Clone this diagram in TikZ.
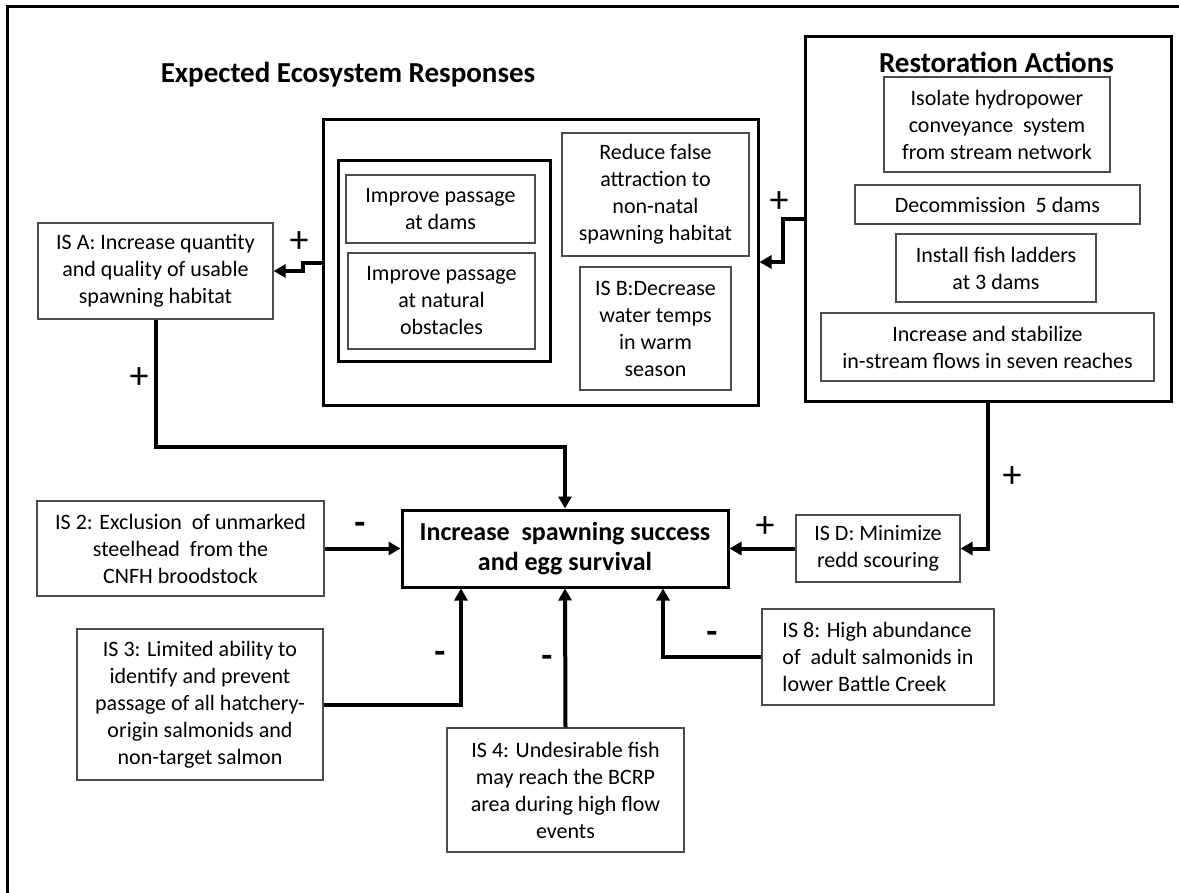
\documentclass[tikz,border=0pt]{standalone}
\usepackage{fontspec}
\setmainfont{Carlito}
\usetikzlibrary{arrows.meta}
\begin{document}
\begin{tikzpicture}[x=0.5pt,y=-0.5pt,
  body/.style={font=\fontsize{11}{13.5}\selectfont},
  thinbox/.style={draw=black!70, line width=0.6pt, inner sep=0pt, align=center, body},
  thickbox/.style={draw=black, line width=1.5pt, inner sep=0pt},
  heading/.style={font=\fontsize{14.5}{17}\selectfont\bfseries, inner sep=0pt},
  conn/.style={line width=2pt, -{Triangle[length=6pt,width=6.5pt]}},
  plus/.style={font=\fontsize{19}{19}\selectfont, inner sep=0pt},
  minus/.style={font=\fontsize{18}{18}\selectfont\bfseries, inner sep=0pt},
]
% canvas and frame
\fill[white] (0,0) rectangle (1179,893);
\useasboundingbox (0,0) rectangle (1179,893);
\draw[line width=1.5pt] (7,893) -- (7,7) -- (1179,7);

% headings
\node[heading] (ertitle) at (348,75) {Expected Ecosystem Responses};

% expected ecosystem responses group
\node[thickbox, minimum width=217.5pt, minimum height=143pt] (big) at (540.5,263) {};
\node[thickbox, minimum width=106pt, minimum height=100.5pt] (pass) at (444,261.5) {};
\node[thinbox, minimum width=94.5pt, minimum height=34pt] (pdams) at (440.5,209) {Improve passage\\at dams};
\node[thinbox, minimum width=93.5pt, minimum height=48pt] (pnat) at (441.5,301) {Improve passage\\at natural\\obstacles};
\node[thinbox, minimum width=93.5pt, minimum height=61.5pt] (rfalse) at (655.5,194.5) {Reduce false\\attraction to\\non-natal\\spawning habitat};
\node[thinbox, minimum width=75.5pt, minimum height=61.5pt] (isb) at (655.5,328.5) {IS B:Decrease\\water temps\\in warm\\season};

% restoration actions group
\node[thickbox, minimum width=183pt, minimum height=182.5pt] (ra) at (988,219.5) {};
\node[heading] (ratitle) at (996.5,62) {Restoration Actions};
\node[thinbox, minimum width=113pt, minimum height=47.5pt] (iso) at (997,124.5) {Isolate hydropower\\conveyance\ \ system\\from stream network};
\node[thinbox, minimum width=142.5pt, minimum height=19.5pt] (decom) at (997.5,204.5) {Decommission\ \ 5 dams};
\node[thinbox, minimum width=100pt, minimum height=34pt] (ladder) at (996,268) {Install fish ladders\\at 3 dams};
\node[thinbox, minimum width=166.5pt, minimum height=34pt] (flows) at (987.5,347) {Increase and stabilize\\in-stream flows in seven reaches};

% intermediate steps
\node[thinbox, minimum width=117.5pt, minimum height=48pt] (isa) at (155.5,271) {IS A: Increase quantity\\and quality of usable\\spawning habitat};
\node[thinbox, minimum width=82pt, minimum height=33.5pt] (isd) at (878,548.5) {IS D: Minimize\\redd scouring};
\node[thinbox, minimum width=143.5pt, minimum height=47.5pt] (is2) at (180.5,548.5) {IS 2: Exclusion\ \ of unmarked\\steelhead\ \ from the\\CNFH broodstock};
\node[thinbox, minimum width=123pt, minimum height=75.5pt] (is3) at (200,704.5) {IS 3: Limited ability to\\identify and prevent\\passage of all hatchery-\\origin salmonids and\\non-target salmon};
\node[thinbox, minimum width=118.5pt, minimum height=62pt] (is4) at (565.5,790) {IS 4: Undesirable fish\\may reach the BCRP\\area during high flow\\events};
\node[thinbox, align=left, minimum width=116pt, minimum height=48pt] (is8) at (878,657) {IS 8: High abundance\\of\ \ adult salmonids in\\lower Battle Creek};

% central outcome
\node[thickbox, minimum width=163pt, minimum height=38.5pt, align=center,
      font=\fontsize{13}{15}\selectfont\bfseries] (central) at (565,548.5)
      {Increase\ \ spawning success\\and egg survival};

% connectors
\draw[conn] (ra.west) -- (ra.west -| 783,0) |- (big.east |- 0,262);
\draw[conn] (big.west) -- (big.west -| 303,0) |- (isa.east);
\draw[conn] (isa.south) -- (isa.south |- 0,447) -| (central.north);
\draw[conn] (is2.east) -- (central.west);
\draw[conn] (isd.west) -- (central.east);
\draw[conn] (ra.south) |- (isd.east);
\draw[conn] (is3.east) -| (central.south -| 461,0);
\draw[conn] (is4.north) -- (central.south);
\draw[conn] (is8.west) -| (central.south -| 663,0);

% signs
\node[plus] (p1) at (299,242) {+};
\node[plus] (p2) at (779,202) {+};
\node[plus] (p3) at (139,378) {+};
\node[plus] (p4) at (765,527) {+};
\node[plus] (p5) at (1012,477) {+};
\node[minus] (m1) at (360,528) {-};
\node[minus] (m2) at (440,657) {-};
\node[minus] (m3) at (547,661) {-};
\node[minus] (m4) at (712,637) {-};
\end{tikzpicture}
\end{document}
